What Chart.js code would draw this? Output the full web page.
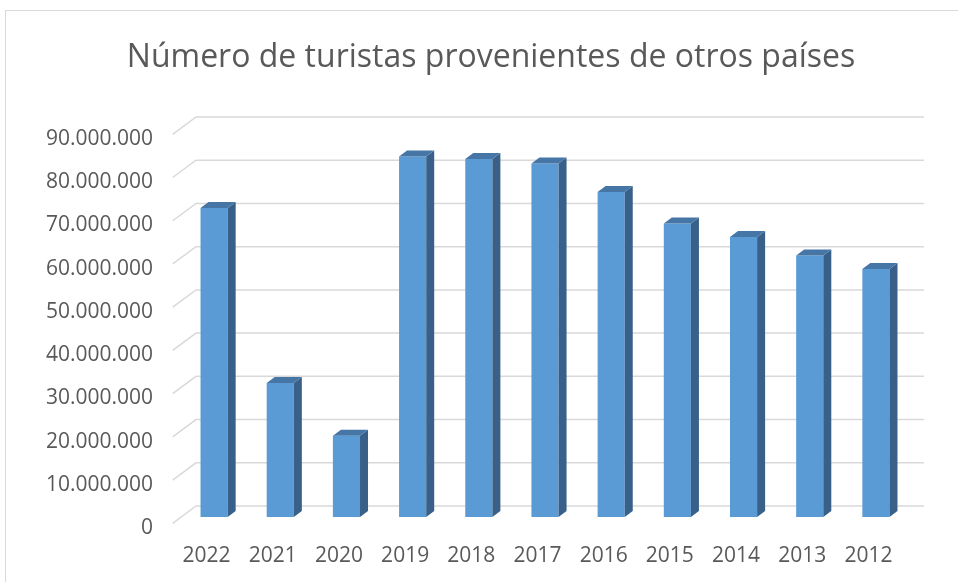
<!DOCTYPE html>
<html lang="es">
<head>
<meta charset="utf-8">
<title>Número de turistas provenientes de otros países</title>
<script src="https://cdn.jsdelivr.net/npm/chart.js@4.4.1/dist/chart.umd.min.js"></script>
<style>
  html, body { margin: 0; padding: 0; background: #fff; overflow: hidden; }
  #wrap { position: relative; width: 958px; height: 582px; }
  #frame { position: absolute; left: 5px; top: 10px; width: 960px; height: 600px;
           border: 1px solid #d9d9d9; box-sizing: border-box; }
  #title { position: absolute; left: 0; top: 36px; width: 982px; text-align: center;
           font-family: "Open Sans", sans-serif; font-size: 32px; line-height: 1.2;
           color: #595959; white-space: nowrap; }
  canvas { position: absolute; left: 0; top: 0; }
</style>
</head>
<body>
<div id="wrap">
  <div id="frame"></div>
  <canvas id="chart" width="958" height="582"></canvas>
  <div id="title">Número de turistas provenientes de otros países</div>
</div>
<script>
// Tourist arrivals by year
const years = ['2022', '2021', '2020', '2019', '2018', '2017', '2016', '2015', '2014', '2013', '2012'];
const tourists = [71500000, 31000000, 18800000, 83400000, 82800000, 81800000, 75200000, 67900000, 64800000, 60500000, 57400000];

const yMax = 90000000;
const yStep = 10000000;

// 3D look: offsets of the back wall and bar depth relative to bar front plane
const WALL_DX = 15, WALL_DY = -11;     // back wall gridlines
const FLOOR_DX = -8.3, FLOOR_DY = 6.3; // front end of the slanted gridlines
const DEPTH_DX = 8, DEPTH_DY = -6;     // bar depth

const GRID_COLOR = '#d9d9d9';
const BAR_FRONT = '#5b9bd5';
const BAR_TOP = '#4676a6';
const BAR_SIDE = '#386088';

// format 90000000 -> 90.000.000
function dotted(n) {
  return String(n).replace(/\B(?=(\d{3})+(?!\d))/g, '.');
}

// Draw the back wall gridlines with their slanted floor ends
const wallGrid = {
  id: 'wallGrid',
  beforeDatasetsDraw(chart) {
    const { ctx, chartArea, scales } = chart;
    ctx.save();
    ctx.strokeStyle = GRID_COLOR;
    ctx.lineWidth = 1.5;
    for (let v = 0; v <= yMax; v += yStep) {
      const y = scales.y.getPixelForValue(v);
      ctx.beginPath();
      ctx.moveTo(chartArea.left + FLOOR_DX, y + FLOOR_DY);
      ctx.lineTo(chartArea.left + WALL_DX, y + WALL_DY);
      ctx.lineTo(chartArea.right + WALL_DX, y + WALL_DY);
      ctx.stroke();
    }
    ctx.restore();
  }
};

// Top and side faces of every bar
const barFaces = {
  id: 'barFaces',
  afterDatasetsDraw(chart) {
    const { ctx } = chart;
    const meta = chart.getDatasetMeta(0);
    ctx.save();
    for (const bar of meta.data) {
      const { x, y, base, width } = bar.getProps(['x', 'y', 'base', 'width'], true);
      const x0 = x - width / 2;
      const x1 = x + width / 2;

      ctx.fillStyle = BAR_SIDE;
      ctx.beginPath();
      ctx.moveTo(x1, y);
      ctx.lineTo(x1 + DEPTH_DX, y + DEPTH_DY);
      ctx.lineTo(x1 + DEPTH_DX, base + DEPTH_DY);
      ctx.lineTo(x1, base);
      ctx.closePath();
      ctx.fill();

      ctx.fillStyle = BAR_TOP;
      ctx.beginPath();
      ctx.moveTo(x0, y);
      ctx.lineTo(x1, y);
      ctx.lineTo(x1 + DEPTH_DX, y + DEPTH_DY);
      ctx.lineTo(x0 + DEPTH_DX, y + DEPTH_DY);
      ctx.closePath();
      ctx.fill();
    }
    ctx.restore();
  }
};

Chart.defaults.font.family = '"Open Sans", sans-serif';
Chart.defaults.color = '#595959';

new Chart(document.getElementById('chart'), {
  type: 'bar',
  data: {
    labels: years,
    datasets: [{
      data: tourists,
      backgroundColor: BAR_FRONT,
      borderWidth: 0,
      barPercentage: 0.41,
      categoryPercentage: 1.0,
    }],
  },
  options: {
    responsive: false,
    animation: false,
    devicePixelRatio: 1,
    layout: { padding: { left: 0, right: 49, top: 128, bottom: 0 } },
    plugins: {
      legend: { display: false },
      tooltip: { enabled: false },
      title: { display: false },
    },
    scales: {
      x: {
        grid: { display: false },
        border: { display: false },
        ticks: { font: { size: 21 }, padding: 18, labelOffset: -7.5, maxRotation: 0 },
        afterFit(scale) { scale.height = 65; },
      },
      y: {
        min: 0,
        max: yMax,
        grid: { display: false },
        border: { display: false },
        ticks: {
          stepSize: yStep,
          font: { size: 21 },
          padding: 20,
          labelOffset: 11,
          callback: v => dotted(v),
        },
        afterFit(scale) { scale.width = 181; },
      },
    },
  },
  plugins: [wallGrid, barFaces],
});
</script>
</body>
</html>
